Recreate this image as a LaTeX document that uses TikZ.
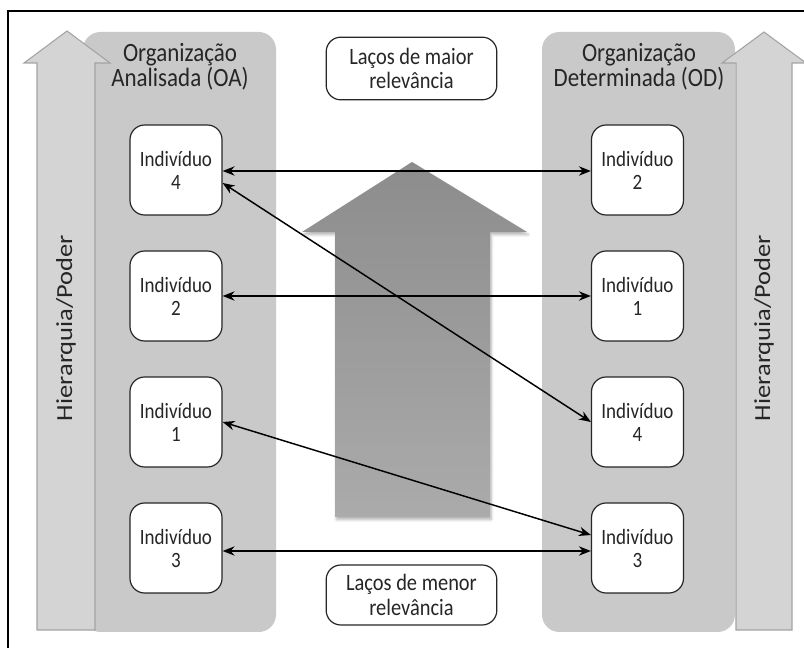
\documentclass[tikz,border=0pt]{standalone}
\usepackage{fontspec}
\setmainfont{Carlito}
\newfontfamily\tallfont[FakeStretch=0.87]{Carlito}
\newfontfamily\widefont[FakeStretch=1.15]{Carlito}
\usetikzlibrary{arrows.meta,shadows.blur}
\definecolor{panelgray}{HTML}{C9C9C9}
\definecolor{hierfill}{HTML}{D4D4D4}
\definecolor{hierline}{HTML}{A3A3A3}
\definecolor{txt}{HTML}{262626}
\begin{document}
\begin{tikzpicture}[x=0.75pt,y=-0.75pt,
  panel/.style={fill=panelgray, rounded corners=13pt},
  hier/.style={fill=hierfill, draw=hierline, line width=0.8pt},
  hiertext/.style={rotate=90, text=txt, font=\widefont\fontsize{17.25}{20}\selectfont},
  title/.style={align=center, text=txt, font=\tallfont\fontsize{19.8}{18.5}\selectfont},
  indbox/.style={draw=black!85, line width=0.9pt, fill=white, rounded corners=11pt,
    minimum width=69pt, minimum height=67.5pt, align=center, inner sep=0pt,
    text=txt, font=\tallfont\fontsize{16.4}{17.25}\selectfont},
  lbl/.style={draw=black!85, line width=0.9pt, fill=white, rounded corners=11pt,
    minimum width=128pt, align=center, inner sep=0pt,
    text=txt, font=\tallfont\fontsize{17.6}{18.5}\selectfont},
  bigarrow/.style={top color=black!45, bottom color=black!33, draw=none,
    blur shadow={shadow xshift=1pt, shadow yshift=-2pt, shadow blur steps=6, shadow opacity=30}},
  conn/.style={{Stealth[length=9pt,width=7pt]}-{Stealth[length=9pt,width=7pt]}, line width=1.1pt, black}
]
\useasboundingbox (0,0) rectangle (804,648);
\clip (0,0) rectangle (804,648);
% outer frame
\draw[line width=1.2pt] (8,11) rectangle (830,680);

% panels
\path[panel] (83,32) rectangle (276,632);
\path[panel] (542,32) rectangle (735,632);

% side hierarchy arrows
\draw[hier] (67,31) -- (110,63) -- (95,63) -- (95,630) -- (37,630) -- (37,63) -- (24,63) -- cycle;
\draw[hier] (764,32) -- (806,63) -- (792,63) -- (792,630) -- (736,630) -- (736,63) -- (722,63) -- cycle;
\node[hiertext] (hl) at (66,328) {Hierarquia/Poder};
\node[hiertext] (hr) at (764,328) {Hierarquia/Poder};

% titles
\node[title] (ta) at (180,67) {Organização\\Analisada (OA)};
\node[title] (td) at (639,67) {Organização\\Determinada (OD)};

% central arrow
\path[bigarrow] (412,162) -- (527,232) -- (490,232) -- (490,517) -- (335,517) -- (335,232) -- (302,232) -- cycle;

% labels
\node[lbl, minimum height=47pt] (lmaior) at (411.5,68.5) {Laços de maior\\relevância};
\node[lbl, minimum height=45pt] (lmenor) at (411.5,595) {Laços de menor\\relevância};

% individual boxes
\node[indbox] (L4) at (176,170) {Indivíduo\\4};
\node[indbox] (L2) at (176,296) {Indivíduo\\2};
\node[indbox] (L1) at (176,422) {Indivíduo\\1};
\node[indbox] (L3) at (176,548) {Indivíduo\\3};
\node[indbox] (R2) at (637.5,170) {Indivíduo\\2};
\node[indbox] (R1) at (637.5,296) {Indivíduo\\1};
\node[indbox] (R4) at (637.5,422) {Indivíduo\\4};
\node[indbox] (R3) at (637.5,548) {Indivíduo\\3};

% connectors
\draw[conn] ([yshift=-0.75pt]L4.east) -- ([yshift=-0.75pt]R2.west);
\draw[conn] ([yshift=-9.75pt]L4.east) -- (R4.west);
\draw[conn] (L2.east) -- (R1.west);
\draw[conn] (L1.east) -- ([yshift=9.75pt]R3.west);
\draw[conn] ([yshift=-2.25pt]L3.east) -- ([yshift=-2.25pt]R3.west);
\end{tikzpicture}
\end{document}
